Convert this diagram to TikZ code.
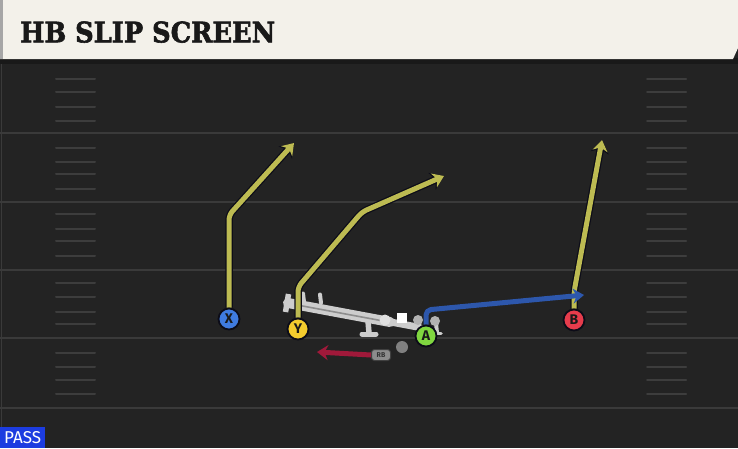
\documentclass[tikz,border=0pt]{standalone}
\usepackage{fontspec}
\usetikzlibrary{arrows.meta}
\newfontfamily\titlefont{DejaVu Serif Bold}[FakeBold=2]
\newfontfamily\labfont{Fira Sans}
\definecolor{fieldbg}{HTML}{232323}
\definecolor{yardline}{HTML}{3A3A3A}
\definecolor{hashcol}{HTML}{3D3D3D}
\definecolor{titlebg}{HTML}{F3F1EA}
\definecolor{routeyellow}{HTML}{BDBB52}
\definecolor{routeblue}{HTML}{2D57AC}
\definecolor{routered}{HTML}{A0193A}
\definecolor{outl}{HTML}{0C0C18}
\definecolor{xblue}{HTML}{3F7BE0}
\definecolor{yyellow}{HTML}{F3CB2E}
\definecolor{agreen}{HTML}{80D640}
\definecolor{bred}{HTML}{E63C4C}
\definecolor{olgrey}{HTML}{CDCDCD}
\definecolor{olmid}{HTML}{8E8E8E}
\definecolor{passblue}{HTML}{1C3CE0}
\pgfdeclarelayer{back}
\pgfdeclarelayer{routes}
\pgfsetlayers{back,routes,main}
\tikzset{
  yard/.style={draw=yardline, line width=2.4pt},
  hashmark/.style={draw=hashcol, line width=2pt, line cap=round},
  routeline/.style={line width=5pt, rounded corners=5pt, line join=round,
    -{Stealth[length=11pt,width=15pt,inset=3.5pt]}},
  routeout/.style={line width=7.5pt, draw=outl, rounded corners=5pt, line join=round,
    -{Stealth[length=13pt,width=18pt,inset=4pt]}},
  player/.style={circle, draw=outl, line width=1.8pt, minimum size=21pt, inner sep=0pt,
    font=\labfont\bfseries\fontsize{14}{14}\selectfont, text=black!90},
  olbar/.style={draw=olgrey, line cap=round},
  rbtag/.style={rounded corners=3pt, fill=black!45, draw=black!75, line width=1pt,
    minimum width=19pt, minimum height=11pt, inner sep=0pt,
    font=\labfont\bfseries\fontsize{7}{7}\selectfont, text=black!80},
  passbox/.style={fill=passblue, minimum width=45pt, minimum height=21pt, inner sep=0pt,
    text=white, anchor=south west}
}
\begin{document}
\begin{tikzpicture}[x=1pt,y=-1pt]
\useasboundingbox (0,0) rectangle (738,448);
\begin{pgfonlayer}{back}
  % field
  \fill[fieldbg] (0,0) rectangle (738,448);
  \draw[draw=yardline, line width=1.2pt] (1.5,60) -- (1.5,448);
  \foreach \yy in {133,202,270,338,408} {
    \draw[yard] (0,\yy) -- (738,\yy);
  }
  \foreach \yy in {79,92,107,121,148,162,174,189,214,229,241,256,283,297,312,324,353,367,380,394} {
    \draw[hashmark] (56,\yy) -- (95,\yy);
    \draw[hashmark] (647,\yy) -- (686,\yy);
  }
  % title bar
  \fill[black!90] (0,58) rectangle (738,64);
  \fill[titlebg] (0,0) -- (738,0) -- (738,48) -- (733,59) -- (0,59) -- cycle;
  \fill[black!35] (0,0) rectangle (3,59);
  % offensive line sled
  \draw[olbar, line width=10pt] (288,303) -- (390,322);
  \draw[draw=olmid, line width=1.6pt] (300,305.5) -- (386,321.5);
  \draw[olbar, line width=7pt] (388,321.5) -- (420,327.5);
  \draw[olbar, line width=5.5pt, line cap=butt] (288.5,294) -- (285.5,312);
  \draw[olbar, line width=4pt] (303,293.5) -- (304,302);
  \draw[olbar, line width=4pt] (320,294.5) -- (321,303);
  \draw[olbar, line width=5.5pt, line cap=butt] (368,321) -- (369,333);
  \draw[olbar, line width=5pt] (362,334) -- (376,334);
  \fill[black!12] (385,320) circle (5.5);
  \fill[white] (397,313) rectangle (407,323);
  \draw[olbar, line width=3pt] (418,321) -- (418,329);
  \fill[black!30] (418,320) circle (5);
  \draw[olbar, line width=4pt] (436,323) -- (437,333);
  \draw[olbar, line width=3.5pt] (433,333.5) -- (441,333.5);
  \fill[black!30] (435,321) circle (5);
  \fill[black!50] (402,347) circle (6);
\end{pgfonlayer}
% title
\node[inner sep=0pt, anchor=south west, text=black!90] (title) at (20,43)
  {\resizebox{255pt}{21pt}{\titlefont HB SLIP SCREEN}};
% players
\node[player, fill=xblue] (X) at (229,319) {X};
\node[player, fill=yyellow] (Y) at (298,329) {Y};
\node[player, fill=agreen] (A) at (426,336) {A};
\node[player, fill=bred] (B) at (574,320) {B};
\node[rbtag] (RB) at (381,355) {RB};
\coordinate (xe) at (294,143);
\coordinate (ye) at (444,176);
\coordinate (be) at (602,140);
\coordinate (ae) at (584,295);
\coordinate (rbe) at (317,352);
\begin{pgfonlayer}{routes}
  \draw[routeout] (X.north) -- (229,215) -- (xe);
  \draw[routeline, draw=routeyellow] (X.north) -- (229,215) -- (xe);
  \draw[routeout] (Y.north) -- (298,287) -- (362,212) -- (ye);
  \draw[routeline, draw=routeyellow] (Y.north) -- (298,287) -- (362,212) -- (ye);
  \draw[routeout] (B.north) -- (574,292) -- (be);
  \draw[routeline, draw=routeyellow] (B.north) -- (574,292) -- (be);
  \draw[routeline, draw=routeblue] (A.north) -- (426,310) -- (ae);
  \draw[routeline, draw=routered] (RB.west) -- (rbe);
\end{pgfonlayer}
% pass label
\node[passbox] (pass) at (0,448)
  {\resizebox{37pt}{12pt}{\labfont PASS}};
\end{tikzpicture}
\end{document}
